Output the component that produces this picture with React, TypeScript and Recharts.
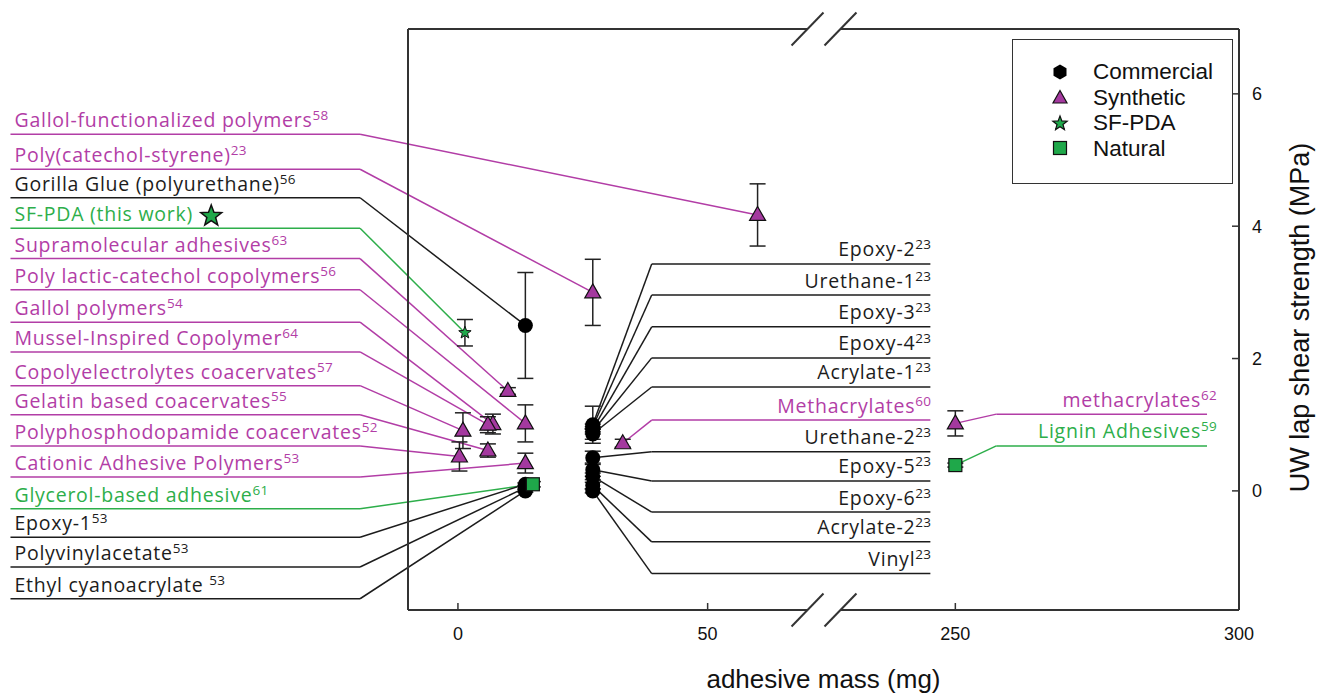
import React from 'react';
import {
  ComposedChart,
  Scatter,
  XAxis,
  YAxis,
  ErrorBar,
  ReferenceLine,
  ReferenceDot,
  Legend,
} from 'recharts';

// ---------- broken x-axis transform (0-75 mg and 250-300 mg) ----------
const bx = (m: number) => (m <= 75 ? m : 99.6 + (m - 250) * 1.136);

// ---------- data ----------
const commercialNames = ['Gorilla Glue', 'Epoxy-1', 'Polyvinylacetate', 'Ethyl cyanoacrylate', 'Epoxy-2', 'Urethane-1', 'Epoxy-3', 'Epoxy-4', 'Acrylate-1', 'Urethane-2', 'Epoxy-5', 'Epoxy-6', 'Acrylate-2', 'Vinyl'];
const commercialMass = [13.5, 13.5, 13.5, 13.5, 27, 27, 27, 27, 27, 27, 27, 27, 27, 27];
const commercialStrength = [2.5, 0.1, 0.05, 0.0, 1.0, 0.97, 0.93, 0.9, 0.86, 0.5, 0.32, 0.22, 0.08, 0.0];
const commercialErr = [0.8, 0.02, 0.02, 0.02, 0.28, 0.04, 0.04, 0.04, 0.08, 0.1, 0.1, 0.05, 0.05, 0.03];

const syntheticNames = ['Gallol-functionalized polymers', 'Poly(catechol-styrene)', 'Supramolecular adhesives', 'Poly lactic-catechol copolymers', 'Gallol polymers', 'Mussel-Inspired Copolymer', 'Copolyelectrolytes coacervates', 'Gelatin based coacervates', 'Polyphosphodopamide coacervates', 'Cationic Adhesive Polymers', 'Methacrylates', 'methacrylates'];
const syntheticMass = [60, 27, 10, 13.5, 7, 6, 1, 6, 0.3, 13.5, 33, 250];
const syntheticStrength = [4.17, 3.0, 1.51, 1.02, 1.01, 1.0, 0.91, 0.61, 0.52, 0.42, 0.72, 1.02];
const syntheticErr = [0.47, 0.5, 0.05, 0.28, 0.15, 0.12, 0.27, 0.1, 0.22, 0.15, 0.06, 0.19];

const sfpdaMass = [1.4];
const sfpdaStrength = [2.39];
const sfpdaErr = [0.2];

const naturalNames = ['Glycerol-based adhesive', 'Lignin Adhesives'];
const naturalMass = [15, 250];
const naturalStrength = [0.1, 0.39];
const naturalErr = [0.04, 0.03];

const xTickMass = [0, 50, 250, 300];
const yTicks = [0, 2, 4, 6];

// ---------- annotation labels ----------
const leftLabelNames = ['Gallol-functionalized polymers', 'Poly(catechol-styrene)', 'Gorilla Glue (polyurethane)', 'SF-PDA (this work)', 'Supramolecular adhesives', 'Poly lactic-catechol copolymers', 'Gallol polymers', 'Mussel-Inspired Copolymer', 'Copolyelectrolytes coacervates', 'Gelatin based coacervates', 'Polyphosphodopamide coacervates', 'Cationic Adhesive Polymers', 'Glycerol-based adhesive', 'Epoxy-1', 'Polyvinylacetate', 'Ethyl cyanoacrylate '];
const leftLabelRefs = ['58', '23', '56', '', '63', '56', '54', '64', '57', '55', '52', '53', '61', '53', '53', '53'];
const leftLabelSeries = ['s', 's', 'c', 'f', 's', 's', 's', 's', 's', 's', 's', 's', 'n', 'c', 'c', 'c'];
const leftLabelIndex = [0, 1, 0, 0, 2, 3, 4, 5, 6, 7, 8, 9, 0, 1, 2, 3];
const leftLabelRows = [5.39, 4.86, 4.43, 3.97, 3.51, 3.04, 2.55, 2.1, 1.59, 1.15, 0.68, 0.21, -0.27, -0.7, -1.15, -1.63];

const rightLabelNames = ['Epoxy-2', 'Urethane-1', 'Epoxy-3', 'Epoxy-4', 'Acrylate-1', 'Methacrylates', 'Urethane-2', 'Epoxy-5', 'Epoxy-6', 'Acrylate-2', 'Vinyl'];
const rightLabelRefs = ['23', '23', '23', '23', '23', '60', '23', '23', '23', '23', '23'];
const rightLabelSeries = ['c', 'c', 'c', 'c', 'c', 's', 'c', 'c', 'c', 'c', 'c'];
const rightLabelIndex = [4, 5, 6, 7, 8, 10, 9, 10, 11, 12, 13];
const rightLabelRows = [3.43, 2.96, 2.48, 2.01, 1.57, 1.07, 0.59, 0.15, -0.32, -0.77, -1.25];

const farLabelNames = ['methacrylates', 'Lignin Adhesives'];
const farLabelRefs = ['62', '59'];
const farLabelSeries = ['s', 'n'];
const farLabelIndex = [11, 1];
const farLabelRows = [1.16, 0.68];

// ---------- styling ----------
const MAGENTA = '#B23DA6';
const MAG_FILL = '#A4399F';
const GREEN = '#2DAE4A';
const GREEN_FILL = '#1FA84A';
const BLACK = '#1c1c1c';
const LABEL_FONT = '"Open Sans", Lato, sans-serif';
const AXIS_FONT = '"Liberation Sans", Arial, sans-serif';

const X_MIN = -10;
const X_MAX = bx(300);
const Y_MIN = -1.8;
const Y_MAX = 6.98;

const mk = (mass: number[], str: number[], err: number[]) =>
  mass.map((m, i) => ({ x: bx(m), y: str[i], err: err[i] }));

const commercialData = mk(commercialMass, commercialStrength, commercialErr);
const syntheticData = mk(syntheticMass, syntheticStrength, syntheticErr);
const sfpdaData = mk(sfpdaMass, sfpdaStrength, sfpdaErr);
const naturalData = mk(naturalMass, naturalStrength, naturalErr);

const seriesData: Record<string, { x: number; y: number }[]> = {
  c: commercialData,
  s: syntheticData,
  f: sfpdaData,
  n: naturalData,
};
const seriesColor: Record<string, string> = { c: BLACK, s: MAGENTA, f: GREEN, n: GREEN };

// ---------- shapes ----------
const CircleShape = (p: any) => <circle cx={p.cx} cy={p.cy} r={7.5} fill="#000" />;
const TriShape = (p: any) => (
  <path
    d={`M${p.cx},${p.cy - 8.5} L${p.cx + 8},${p.cy + 5.5} L${p.cx - 8},${p.cy + 5.5} Z`}
    fill={MAG_FILL}
    stroke="#111"
    strokeWidth={1.2}
  />
);
const starPath = (cx: number, cy: number, R: number) => {
  const r = R * 0.42;
  let d = '';
  for (let i = 0; i < 10; i++) {
    const a = -Math.PI / 2 + (i * Math.PI) / 5;
    const rr = i % 2 === 0 ? R : r;
    d += `${i === 0 ? 'M' : 'L'}${cx + rr * Math.cos(a)},${cy + rr * Math.sin(a)} `;
  }
  return d + 'Z';
};
const StarShape = (p: any) => (
  <path d={starPath(p.cx, p.cy, 6.5)} fill={GREEN_FILL} stroke="#111" strokeWidth={1} />
);
const BigStarShape = (p: any) => (
  <path d={starPath(p.cx, p.cy, 11)} fill={GREEN_FILL} stroke="#111" strokeWidth={1.5} />
);
const SquareShape = (p: any) => (
  <rect x={p.cx - 6.5} y={p.cy - 6.5} width={13} height={13} fill={GREEN_FILL} stroke="#111" strokeWidth={1.2} />
);

const textShape = (name: string, sup: string, color: string, anchor: 'start' | 'end') => (p: any) => (
  <text
    x={p.cx}
    y={p.cy}
    fill={color}
    fontFamily={LABEL_FONT}
    fontSize={19.5}
    letterSpacing={0.75}
    textAnchor={anchor}
  >
    {name}
    {sup ? (
      <tspan dy={-7} fontSize={13.5} letterSpacing={0.3}>
        {sup}
      </tspan>
    ) : null}
  </text>
);

// ---------- legend ----------
const legendItems = ['Commercial', 'Synthetic', 'SF-PDA', 'Natural'];
const LegendIcon = ({ i }: { i: number }) => {
  if (i === 0)
    return (
      <svg width={18} height={18}>
        <path d="M9,1.5 L15.5,5.2 L15.5,12.8 L9,16.5 L2.5,12.8 L2.5,5.2 Z" fill="#000" />
      </svg>
    );
  if (i === 1)
    return (
      <svg width={18} height={18}>
        <path d="M9,2.5 L16,15 L2,15 Z" fill={MAG_FILL} stroke="#111" strokeWidth={1.2} />
      </svg>
    );
  if (i === 2)
    return (
      <svg width={18} height={18}>
        <path d={starPath(9, 9.5, 7.5)} fill={GREEN_FILL} stroke="#111" strokeWidth={1.2} />
      </svg>
    );
  return (
    <svg width={18} height={18}>
      <rect x={2.5} y={2.5} width={13} height={13} fill={GREEN_FILL} stroke="#111" strokeWidth={1.2} />
    </svg>
  );
};
const LegendBox = () => (
  <div
    style={{
      width: 221,
      height: 145,
      boxSizing: 'border-box',
      border: '1.6px solid #333',
      background: '#fff',
      paddingTop: 19,
      fontFamily: AXIS_FONT,
      fontSize: 22.5,
      color: '#111',
    }}
  >
    {legendItems.map((t, i) => (
      <div key={t} style={{ display: 'flex', alignItems: 'center', height: 25.5 }}>
        <div style={{ width: 34, marginLeft: 30, display: 'flex', justifyContent: 'center' }}>
          <LegendIcon i={i} />
        </div>
        <span style={{ marginLeft: 16, lineHeight: '25px' }}>{t}</span>
      </div>
    ))}
  </div>
);

// ---------- frame / break decorations (in data units) ----------
const yPx = (Y_MAX - Y_MIN) / 581; // data units per pixel vertically
const BREAK_L = 70;
const BREAK_R = 76.6;
const slashes = [
  [66.8, 73.2],
  [73.4, 79.8],
];

export default function App() {
  const refLines: React.ReactNode[] = [];
  const texts: React.ReactNode[] = [];

  const frame = (k: string, a: [number, number], b: [number, number]) =>
    refLines.push(
      <ReferenceLine
        key={k}
        segment={[{ x: a[0], y: a[1] }, { x: b[0], y: b[1] }]}
        stroke="#333"
        strokeWidth={2}
        ifOverflow="visible"
      />
    );

  // left labels
  leftLabelNames.forEach((name, i) => {
    const s = leftLabelSeries[i];
    const tgt = seriesData[s][leftLabelIndex[i]];
    const color = seriesColor[s];
    const row = leftLabelRows[i];
    refLines.push(
      <ReferenceLine
        key={'lu' + i}
        segment={[{ x: -89.6, y: row }, { x: -19.6, y: row }]}
        stroke={color}
        strokeWidth={1.5}
        ifOverflow="visible"
      />,
      <ReferenceLine
        key={'ld' + i}
        segment={[{ x: -19.6, y: row }, { x: tgt.x, y: tgt.y }]}
        stroke={color}
        strokeWidth={1.5}
        ifOverflow="visible"
      />
    );
    texts.push(
      <ReferenceDot
        key={'lt' + i}
        x={-88.8}
        y={row + 7 * yPx}
        r={0}
        ifOverflow="visible"
        shape={textShape(name, leftLabelRefs[i], color, 'start')}
      />
    );
  });

  // right (inner) labels
  rightLabelNames.forEach((name, i) => {
    const s = rightLabelSeries[i];
    const tgt = seriesData[s][rightLabelIndex[i]];
    const color = seriesColor[s];
    const row = rightLabelRows[i];
    refLines.push(
      <ReferenceLine
        key={'ru' + i}
        segment={[{ x: 38.8, y: row }, { x: 94.6, y: row }]}
        stroke={color}
        strokeWidth={1.5}
        ifOverflow="visible"
      />,
      <ReferenceLine
        key={'rd' + i}
        segment={[{ x: 38.8, y: row }, { x: tgt.x, y: tgt.y }]}
        stroke={color}
        strokeWidth={1.5}
        ifOverflow="visible"
      />
    );
    texts.push(
      <ReferenceDot
        key={'rt' + i}
        x={94.8}
        y={row + 7.5 * yPx}
        r={0}
        ifOverflow="visible"
        shape={textShape(name, rightLabelRefs[i], color, 'end')}
      />
    );
  });

  // far right labels
  farLabelNames.forEach((name, i) => {
    const s = farLabelSeries[i];
    const tgt = seriesData[s][farLabelIndex[i]];
    const color = seriesColor[s];
    const row = farLabelRows[i];
    refLines.push(
      <ReferenceLine
        key={'fu' + i}
        segment={[{ x: 107.8, y: row }, { x: 150, y: row }]}
        stroke={color}
        strokeWidth={1.5}
        ifOverflow="visible"
      />,
      <ReferenceLine
        key={'fd' + i}
        segment={[{ x: 107.8, y: row }, { x: tgt.x, y: tgt.y }]}
        stroke={color}
        strokeWidth={1.5}
        ifOverflow="visible"
      />
    );
    texts.push(
      <ReferenceDot
        key={'ft' + i}
        x={152}
        y={row + 7.5 * yPx}
        r={0}
        ifOverflow="visible"
        shape={textShape(name, farLabelRefs[i], color, 'end')}
      />
    );
  });

  // frame
  frame('fl', [X_MIN, Y_MIN], [X_MIN, Y_MAX]);
  frame('fr', [X_MAX, Y_MIN], [X_MAX, Y_MAX]);
  frame('ft1', [X_MIN, Y_MAX], [BREAK_L, Y_MAX]);
  frame('ft2', [BREAK_R, Y_MAX], [X_MAX, Y_MAX]);
  frame('fb1', [X_MIN, Y_MIN], [BREAK_L, Y_MIN]);
  frame('fb2', [BREAK_R, Y_MIN], [X_MAX, Y_MIN]);
  slashes.forEach(([a, b], i) => {
    frame('st' + i, [a, Y_MAX - 16.5 * yPx], [b, Y_MAX + 16.5 * yPx]);
    frame('sb' + i, [a, Y_MIN - 16.5 * yPx], [b, Y_MIN + 16.5 * yPx]);
  });

  return (
    <div style={{ position: 'absolute', left: 0, top: 0, background: '#fff' }}>
      <ComposedChart
        width={1317}
        height={696}
        margin={{ top: 29, right: 0, bottom: 0, left: 408 }}
      >
        <XAxis
          type="number"
          dataKey="x"
          domain={[X_MIN, X_MAX]}
          allowDataOverflow
          ticks={xTickMass.map(bx)}
          tickFormatter={(v: number) => {
            const i = xTickMass.map(bx).findIndex((t) => Math.abs(t - v) < 1e-6);
            return i >= 0 ? String(xTickMass[i]) : '';
          }}
          axisLine={false}
          tickLine={{ stroke: '#333', strokeWidth: 1.5 }}
          tickSize={-7}
          tickMargin={24}
          tick={{ fill: '#111', fontSize: 18, fontFamily: AXIS_FONT }}
          height={86}
          interval={0}
          label={{
            value: 'adhesive mass (mg)',
            position: 'insideBottom',
            offset: 8,
            fill: '#111',
            fontSize: 26,
            fontFamily: AXIS_FONT,
          }}
        />
        <YAxis
          type="number"
          orientation="right"
          domain={[Y_MIN, Y_MAX]}
          allowDataOverflow
          ticks={yTicks}
          axisLine={false}
          tickLine={{ stroke: '#333', strokeWidth: 1.5 }}
          tickSize={-7}
          tickMargin={20}
          tick={{ fill: '#111', fontSize: 18, fontFamily: AXIS_FONT }}
          width={78}
          interval={0}
          label={{
            value: 'UW lap shear strength (MPa)',
            angle: -90,
            position: 'center',
            dx: 21,
            dy: -2,
            fill: '#111',
            fontSize: 27,
            fontFamily: AXIS_FONT,
          }}
        />
        {refLines}
        <Scatter name="Commercial" data={commercialData} dataKey="y" shape={CircleShape} isAnimationActive={false}>
          <ErrorBar dataKey="err" direction="y" width={8} stroke="#222" strokeWidth={1.5} />
        </Scatter>
        <Scatter name="Synthetic" data={syntheticData} dataKey="y" shape={TriShape} isAnimationActive={false}>
          <ErrorBar dataKey="err" direction="y" width={8} stroke="#222" strokeWidth={1.5} />
        </Scatter>
        <Scatter name="SF-PDA" data={sfpdaData} dataKey="y" shape={StarShape} isAnimationActive={false}>
          <ErrorBar dataKey="err" direction="y" width={8} stroke="#222" strokeWidth={1.5} />
        </Scatter>
        <Scatter name="Natural" data={naturalData} dataKey="y" shape={SquareShape} isAnimationActive={false}>
          <ErrorBar dataKey="err" direction="y" width={8} stroke="#222" strokeWidth={1.5} />
        </Scatter>
        {texts}
        <ReferenceDot x={-49.4} y={4.154} r={0} ifOverflow="visible" shape={BigStarShape} />
        <Legend
          layout="vertical"
          align="center"
          verticalAlign="middle"
          content={() => <LegendBox />}
          wrapperStyle={{ position: 'absolute', left: 1012, top: 39, width: 221, height: 145 }}
        />
      </ComposedChart>
    </div>
  );
}
